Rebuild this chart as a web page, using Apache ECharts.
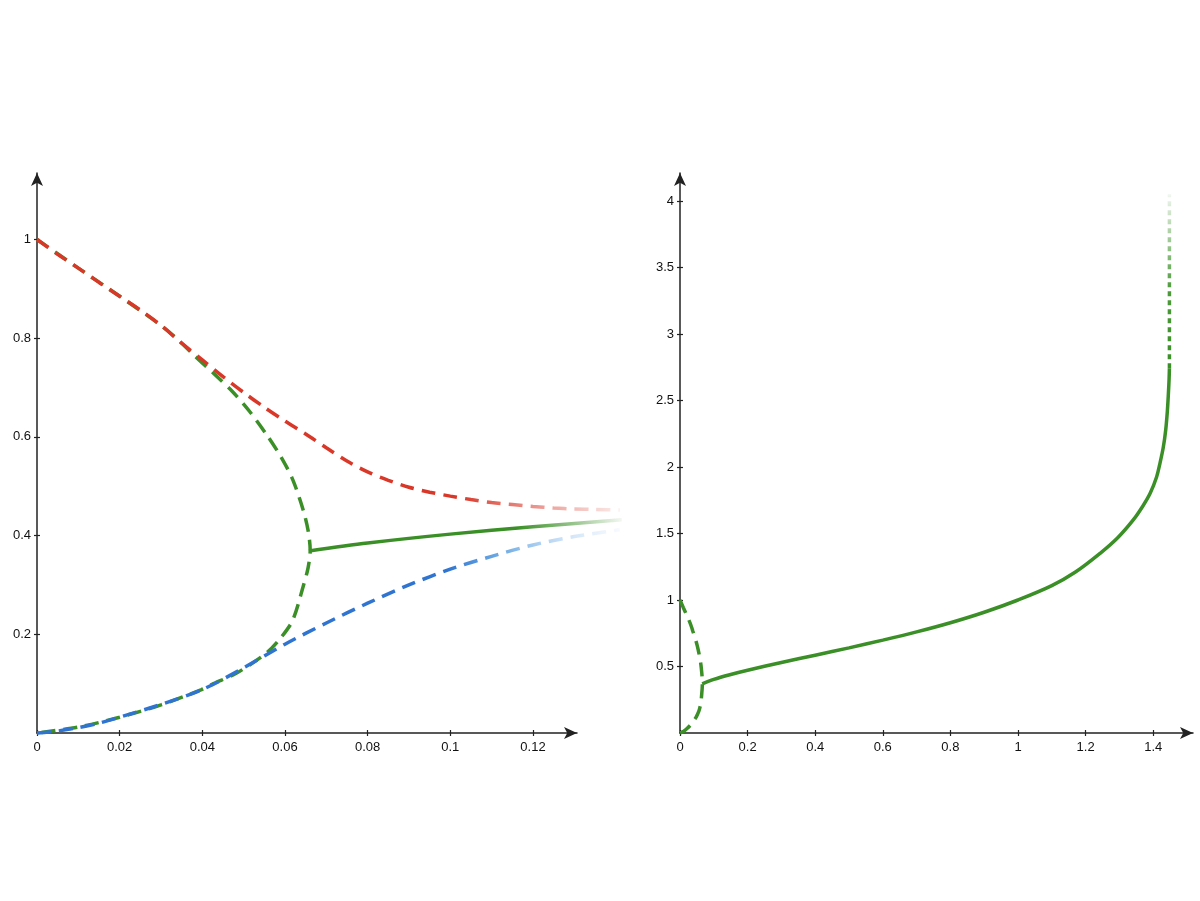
<!DOCTYPE html>
<html>
<head>
<meta charset="utf-8">
<script src="https://cdn.jsdelivr.net/npm/echarts@6/dist/echarts.min.js"></script>
<style>
html,body{margin:0;padding:0;background:#fff;}
#chart{width:1200px;height:901px;}
</style>
</head>
<body>
<div id="chart"></div>
<script>
// ---- data ----
const leftXTicks = [0, 0.02, 0.04, 0.06, 0.08, 0.1, 0.12];
const leftYTicks = [0.2, 0.4, 0.6, 0.8, 1];
const rightXTicks = [0, 0.2, 0.4, 0.6, 0.8, 1, 1.2, 1.4];
const rightYTicks = [0.5, 1, 1.5, 2, 2.5, 3, 3.5, 4];

const redUpper = [[0,1],[0.005,0.97],[0.01,0.942],[0.015,0.913],[0.02,0.885],[0.025,0.857],[0.03,0.826],[0.035,0.79],[0.04,0.756],[0.045,0.722],[0.05,0.69],[0.055,0.66],[0.06,0.632],[0.065,0.606],[0.07,0.578],[0.075,0.551],[0.08,0.529],[0.085,0.512],[0.09,0.498],[0.095,0.488],[0.1,0.48],[0.105,0.473],[0.11,0.467],[0.115,0.463],[0.12,0.459],[0.125,0.456],[0.13,0.454],[0.135,0.453],[0.141,0.452]];

const blueLower = [[0,0],[0.005,0.004],[0.01,0.011],[0.015,0.02],[0.02,0.032],[0.03,0.058],[0.04,0.088],[0.05,0.132],[0.06,0.18],[0.07,0.223],[0.08,0.263],[0.09,0.3],[0.1,0.332],[0.11,0.358],[0.12,0.381],[0.13,0.398],[0.141,0.412]];

const greenBranch = [[0,1],[0.01,0.942],[0.02,0.885],[0.03,0.826],[0.0346,0.793],[0.0378,0.767],[0.0427,0.729],[0.0475,0.69],[0.0515,0.651],[0.0556,0.604],[0.0592,0.557],[0.0619,0.513],[0.0644,0.452],[0.0656,0.41],[0.0661,0.37],[0.0656,0.335],[0.0645,0.3],[0.0619,0.229],[0.059,0.193],[0.0555,0.162],[0.0482,0.121],[0.0427,0.1],[0.0398,0.088],[0.03,0.057],[0.02,0.032],[0.01,0.012],[0,0]];

const greenStableLeft = [[0.0658,0.369],[0.08,0.385],[0.1,0.403],[0.12,0.418],[0.1415,0.432]];

const greenStableRight = [[0.0658,0.369],[0.1,0.403],[0.15,0.44],[0.2,0.472],[0.3,0.53],[0.4,0.585],[0.5,0.64],[0.6,0.698],[0.7,0.76],[0.8,0.829],[0.9,0.908],[1.0,1.0],[1.1,1.108],[1.17,1.21],[1.243,1.351],[1.295,1.468],[1.341,1.602],[1.37,1.709],[1.391,1.802],[1.41,1.925],[1.42,2.028],[1.43,2.15],[1.437,2.278],[1.442,2.425],[1.445,2.554],[1.447,2.66],[1.448,2.742]];

const greenDotted = [[1.448,2.742],[1.448,4.05]];

// ---- styles ----
const RED = '217,55,40', BLUE = '47,116,208', GREEN = '58,143,38';
function hGrad(rgb, stops) {
  return new echarts.graphic.LinearGradient(0, 0, 1, 0,
    stops.map(s => ({offset: s[0], color: 'rgba(' + rgb + ',' + s[1] + ')'})));
}
function vGrad(rgb, stops) {
  return new echarts.graphic.LinearGradient(0, 1, 0, 0,
    stops.map(s => ({offset: s[0], color: 'rgba(' + rgb + ',' + s[1] + ')'})));
}

const labelStyle = {color: '#111', fontSize: 13, fontFamily: 'Liberation Sans, Arial, sans-serif'};
// visible axis: line with arrow, outside ticks, labels
function mainAxis(gridIndex, max, ticks, isX) {
  return {
    type: 'value', gridIndex, min: 0, max,
    axisLine: {show: true, onZero: false, symbol: ['none', 'arrow'], symbolSize: [9, 13],
      lineStyle: {color: '#222', width: 1.5}},
    axisTick: {show: true, length: 3, customValues: ticks, lineStyle: {color: '#222', width: 1.2}},
    axisLabel: Object.assign({show: true, customValues: ticks, margin: isX ? 8 : 6}, labelStyle),
    splitLine: {show: false}
  };
}
// data axis: same scale, only inside ticks (so ticks cross the axis line)
function dataAxis(gridIndex, max, ticks) {
  return {
    type: 'value', gridIndex, min: 0, max,
    axisLine: {show: false, onZero: false},
    axisTick: {show: true, inside: true, length: 3, customValues: ticks, lineStyle: {color: '#222', width: 1.2}},
    axisLabel: {show: false},
    splitLine: {show: false}
  };
}

const dash = [14, 8];
function lineSeries(data, gi, color, type, z, smooth) {
  return {
    type: 'line', data, xAxisIndex: gi, yAxisIndex: gi,
    showSymbol: false, symbol: 'none', smooth: smooth == null ? 0.3 : smooth, clip: false, z,
    lineStyle: {color, width: 3.5, type, cap: 'butt'},
    emphasis: {disabled: true}, silent: true
  };
}

const LX = 4133, LY = 493.5, RX = 338, RY = 133;

const chart = echarts.init(document.getElementById('chart'), null, {renderer: 'canvas'});
chart.setOption({
  backgroundColor: '#fff',
  animation: false,
  grid: [
    {left: 37, top: 173, width: 540, height: 560},
    {left: 37, top: 173, width: 590, height: 560},
    {left: 680, top: 173, width: 513, height: 560},
    {left: 680, top: 173, width: 513, height: 560}
  ],
  xAxis: [
    mainAxis(0, 540 / LX, leftXTicks, true),
    dataAxis(1, 590 / LX, leftXTicks),
    mainAxis(2, 513 / RX, rightXTicks, true),
    dataAxis(3, 513 / RX, rightXTicks)
  ],
  yAxis: [
    mainAxis(0, 560 / LY, leftYTicks, false),
    dataAxis(1, 560 / LY, leftYTicks),
    mainAxis(2, 560 / RY, rightYTicks, false),
    dataAxis(3, 560 / RY, rightYTicks)
  ],
  series: [
    lineSeries(greenBranch, 1, 'rgb(' + GREEN + ')', dash, 2),
    lineSeries(redUpper, 1, hGrad(RED, [[0,1],[0.72,1],[0.8,0.7],[0.9,0.38],[1,0.08]]), dash, 3),
    lineSeries(blueLower, 1, new echarts.graphic.LinearGradient(0,0,1,0,[
      {offset:0,color:'rgba(' + BLUE + ',1)'},
      {offset:0.7,color:'rgba(' + BLUE + ',1)'},
      {offset:0.8,color:'rgba(90,160,225,0.85)'},
      {offset:0.9,color:'rgba(150,195,240,0.5)'},
      {offset:1,color:'rgba(190,215,245,0.1)'}]), dash, 4),
    lineSeries(greenStableLeft, 1, hGrad(GREEN, [[0,1],[0.66,1],[0.85,0.5],[1,0.04]]), 'solid', 5),
    lineSeries(greenBranch, 3, 'rgb(' + GREEN + ')', dash, 2),
    lineSeries(greenStableRight, 3, 'rgb(' + GREEN + ')', 'solid', 3, 0.35),
    lineSeries(greenDotted, 3, vGrad(GREEN, [[0,1],[0.45,0.9],[0.75,0.45],[1,0.05]]), [5, 4], 3, 0)
  ]
});
</script>
</body>
</html>
